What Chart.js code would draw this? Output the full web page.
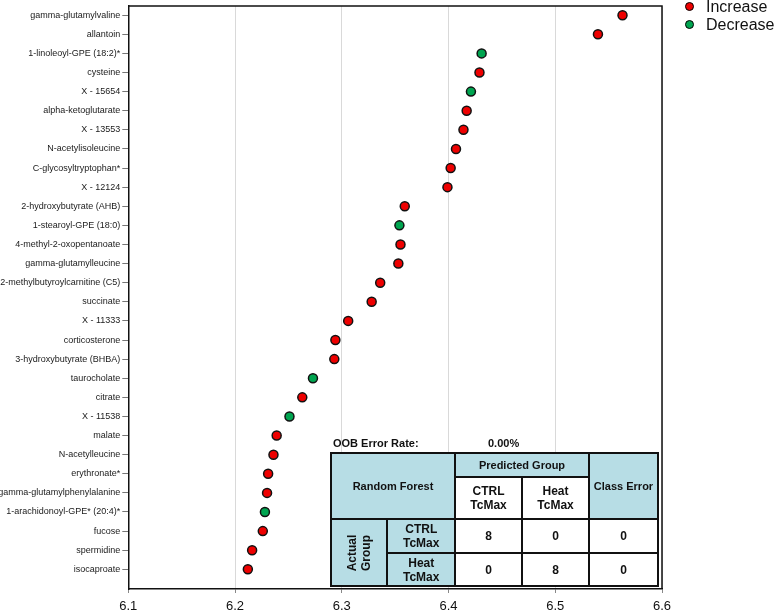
<!DOCTYPE html>
<html lang="en">
<head>
    <meta charset="UTF-8">
    <title>Random Forest Metabolites</title>
    <script src="https://cdn.jsdelivr.net/npm/chart.js@4.4.1/dist/chart.umd.min.js"></script>
    <style>
        body {
            margin: 0;
            background-color: #ffffff;
            font-family: 'Liberation Sans', Arial, sans-serif;
        }
        #wrap {
            position: relative;
            width: 779px;
            height: 610px;
            overflow: hidden;
        }
        #legend {
            position: absolute;
            left: 685px;
            top: -2px;
            font-size: 16px;
            color: #111;
        }
        #legend div {
            height: 18px;
            line-height: 18px;
            white-space: nowrap;
        }
        #legend span.dot {
            display: inline-block;
            width: 7px;
            height: 7px;
            border: 1.5px solid #000;
            border-radius: 50%;
            margin-right: 12px;
            vertical-align: 1px;
        }
        #oob {
            position: absolute;
            left: 333px;
            top: 437px;
            font-size: 11px;
            font-weight: bold;
            color: #111;
        }
        #oob span {
            position: absolute;
            left: 155px;
        }
        #rf {
            position: absolute;
            left: 330px;
            top: 452px;
            border-collapse: collapse;
            font-size: 11px;
            font-weight: bold;
            color: #111;
            background: #fff;
        }
        #rf td {
            border: 2px solid #111;
            text-align: center;
            padding: 0;
        }
        #rf td.blue {
            background-color: #b7dde5;
        }
        #rf td.big {
            font-size: 12px;
            line-height: 14px;
        }
        .vert {
            display: inline-block;
            transform: rotate(-90deg);
            white-space: nowrap;
            font-size: 12px;
            line-height: 14px;
        }
    </style>
</head>
<body>
<div id="wrap">
    <canvas id="chart" width="779" height="610"></canvas>
    <div id="legend"></div>
    <div id="oob">OOB Error Rate:<span>0.00%</span></div>
    <table id="rf">
        <tr style="height:24px">
            <td class="blue" colspan="2" rowspan="2" style="width:122px">Random Forest</td>
            <td class="blue" colspan="2">Predicted Group</td>
            <td class="blue" rowspan="2" style="width:67px">Class Error</td>
        </tr>
        <tr style="height:42px">
            <td class="big" style="width:65px">CTRL<br>TcMax</td>
            <td class="big" style="width:65px">Heat<br>TcMax</td>
        </tr>
        <tr style="height:34px">
            <td class="blue" rowspan="2" style="width:54px"><span class="vert">Actual<br>Group</span></td>
            <td class="blue big" style="width:65px">CTRL<br>TcMax</td>
            <td class="big">8</td>
            <td class="big">0</td>
            <td class="big">0</td>
        </tr>
        <tr style="height:33px">
            <td class="blue big">Heat<br>TcMax</td>
            <td class="big">0</td>
            <td class="big">8</td>
            <td class="big">0</td>
        </tr>
    </table>
</div>
<script>
    // Metabolites, top to bottom
    var metabolites = [
        "gamma-glutamylvaline", "allantoin", "1-linoleoyl-GPE (18:2)*", "cysteine",
        "X - 15654", "alpha-ketoglutarate", "X - 13553", "N-acetylisoleucine",
        "C-glycosyltryptophan*", "X - 12124", "2-hydroxybutyrate (AHB)", "1-stearoyl-GPE (18:0)",
        "4-methyl-2-oxopentanoate", "gamma-glutamylleucine", "2-methylbutyroylcarnitine (C5)", "succinate",
        "X - 11333", "corticosterone", "3-hydroxybutyrate (BHBA)", "taurocholate",
        "citrate", "X - 11538", "malate", "N-acetylleucine",
        "erythronate*", "gamma-glutamylphenylalanine", "1-arachidonoyl-GPE* (20:4)*", "fucose",
        "spermidine", "isocaproate"
    ];

    // Mean decrease accuracy (x value)
    var importance = [
        6.563, 6.540, 6.431, 6.429,
        6.421, 6.417, 6.414, 6.407,
        6.402, 6.399, 6.359, 6.354,
        6.355, 6.353, 6.336, 6.328,
        6.306, 6.294, 6.293, 6.273,
        6.263, 6.251, 6.239, 6.236,
        6.231, 6.230, 6.228, 6.226,
        6.216, 6.212
    ];

    // Direction of change
    var direction = [
        "Increase", "Increase", "Decrease", "Increase",
        "Decrease", "Increase", "Increase", "Increase",
        "Increase", "Increase", "Increase", "Decrease",
        "Increase", "Increase", "Increase", "Increase",
        "Increase", "Increase", "Increase", "Decrease",
        "Increase", "Decrease", "Increase", "Increase",
        "Increase", "Increase", "Decrease", "Increase",
        "Increase", "Increase"
    ];

    var xTicks = [6.1, 6.2, 6.3, 6.4, 6.5, 6.6];

    var colors = { Increase: '#ee0000', Decrease: '#00a550' };

    // legend
    var legendEl = document.getElementById('legend');
    ['Increase', 'Decrease'].forEach(function(name) {
        var row = document.createElement('div');
        row.innerHTML = '<span class="dot" style="background:' + colors[name] + '"></span>' + name;
        legendEl.appendChild(row);
    });

    // frame around the plot area
    var framePlugin = {
        id: 'frame',
        afterDraw: function(chart) {
            var a = chart.chartArea, ctx = chart.ctx;
            ctx.save();
            ctx.strokeStyle = '#111';
            ctx.lineWidth = 1.5;
            ctx.beginPath();
            ctx.moveTo(a.left, a.top);
            ctx.lineTo(a.right, a.top);
            ctx.lineTo(a.right, a.bottom);
            ctx.stroke();
            ctx.restore();
        }
    };

    var ctx = document.getElementById('chart').getContext('2d');
    var chart = new Chart(ctx, {
        type: 'scatter',
        data: {
            datasets: [{
                data: metabolites.map(function(m, i) { return { x: importance[i], y: i }; }),
                backgroundColor: direction.map(function(d) { return colors[d]; }),
                borderColor: '#111',
                borderWidth: 1.5,
                pointRadius: 4.5,
                pointHoverRadius: 4.5
            }]
        },
        options: {
            responsive: false,
            animation: false,
            layout: { padding: { top: 1, right: 117, left: 0, bottom: 0 } },
            plugins: {
                legend: { display: false },
                tooltip: { enabled: false }
            },
            scales: {
                x: {
                    type: 'linear',
                    min: 6.1,
                    max: 6.6,
                    afterBuildTicks: function(scale) {
                        scale.ticks = xTicks.map(function(v) { return { value: v }; });
                    },
                    afterFit: function(scale) {
                        scale.height = 21;
                        scale.paddingLeft = 0;
                        scale.paddingRight = 0;
                    },
                    ticks: {
                        padding: 6,
                        maxRotation: 0,
                        color: '#111',
                        font: { family: "'Liberation Sans', Arial, sans-serif", size: 13 },
                        callback: function(v) { return v.toFixed(1); }
                    },
                    grid: {
                        color: '#d9d9d9',
                        lineWidth: 1,
                        tickLength: 4,
                        tickColor: '#888'
                    },
                    border: { color: '#111', width: 1.5 }
                },
                y: {
                    type: 'linear',
                    reverse: true,
                    min: -0.48,
                    max: 30.03,
                    afterBuildTicks: function(scale) {
                        scale.ticks = metabolites.map(function(m, i) { return { value: i }; });
                    },
                    afterFit: function(scale) {
                        scale.width = 128.3;
                        scale.paddingTop = 0;
                        scale.paddingBottom = 0;
                    },
                    ticks: {
                        padding: 2,
                        autoSkip: false,
                        color: '#1a1a1a',
                        font: { family: "'Liberation Sans', Arial, sans-serif", size: 9 },
                        callback: function(v) { return metabolites[v]; }
                    },
                    grid: {
                        drawOnChartArea: false,
                        tickLength: 6,
                        tickColor: '#777'
                    },
                    border: { color: '#111', width: 1.5 }
                }
            }
        },
        plugins: [framePlugin]
    });
</script>
</body>
</html>
